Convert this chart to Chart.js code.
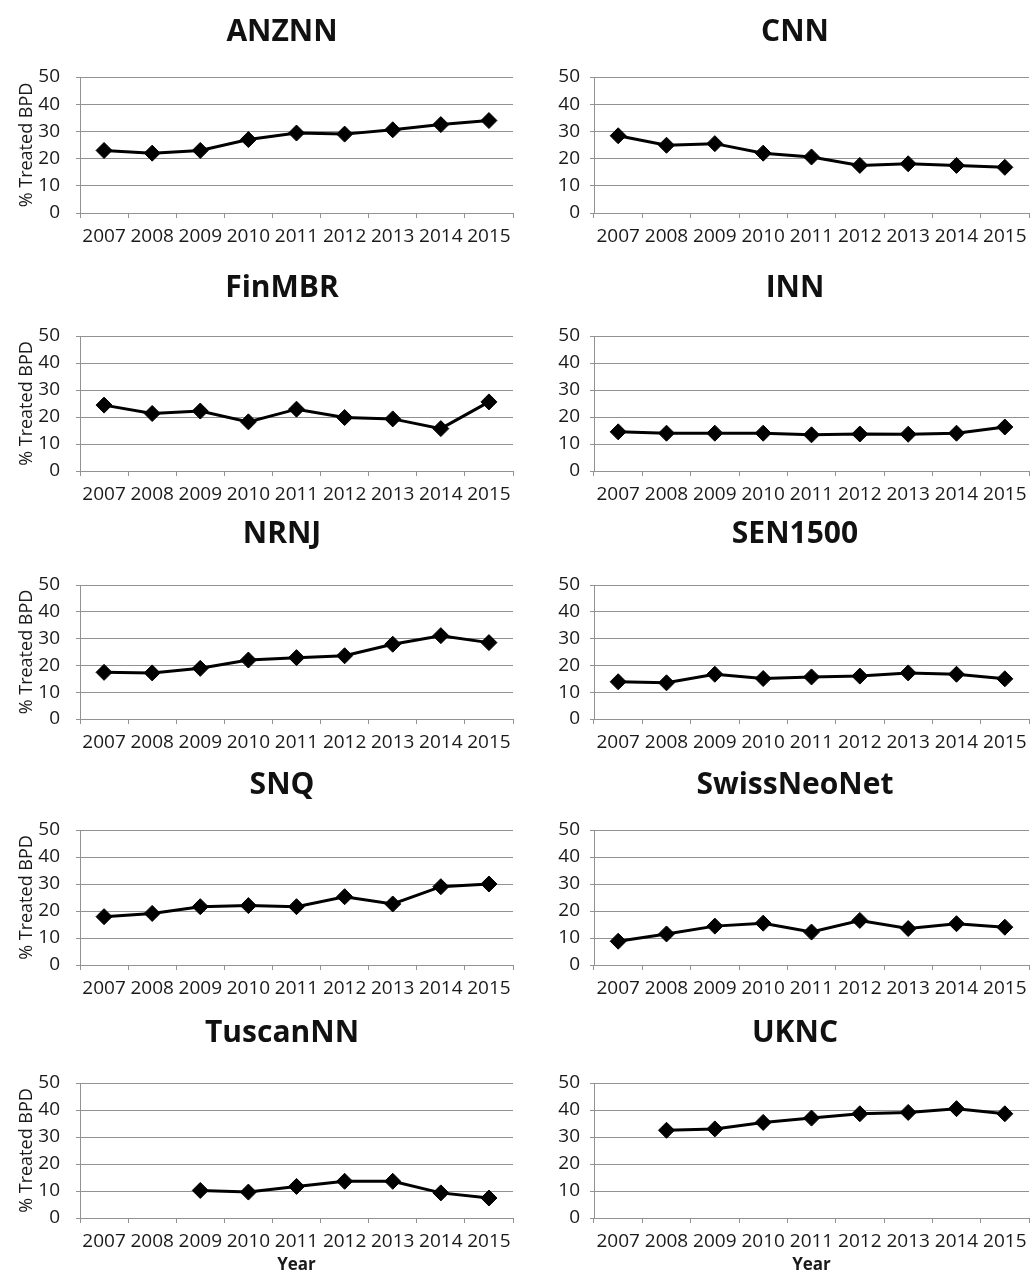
<!DOCTYPE html>
<html>
<head>
<meta charset="utf-8">
<script src="https://cdn.jsdelivr.net/npm/chart.js@4.4.0/dist/chart.umd.min.js"></script>
<style>
  html, body { margin: 0; padding: 0; background: #fff; overflow: hidden; width: 1032px; height: 1274px; }
  canvas { position: absolute; }
</style>
</head>
<body>
<script>
const years = ['2007', '2008', '2009', '2010', '2011', '2012', '2013', '2014', '2015'];
const yMax = 50;
const yStep = 10;
const yTitle = '% Treated BPD';
const xTitle = 'Year';

const networks = ['ANZNN', 'CNN', 'FinMBR', 'INN', 'NRNJ', 'SEN1500', 'SNQ', 'SwissNeoNet', 'TuscanNN', 'UKNC'];
const anznn = [23, 22, 23, 27, 29.4, 29, 30.6, 32.5, 34];
const cnn = [28.4, 24.9, 25.5, 22, 20.6, 17.5, 18.1, 17.5, 16.8];
const finmbr = [24.4, 21.3, 22.2, 18.2, 22.9, 19.8, 19.3, 15.7, 25.6];
const inn = [14.5, 14, 14, 14, 13.4, 13.7, 13.6, 14, 16.3];
const nrnj = [17.4, 17.2, 18.9, 22, 22.9, 23.6, 27.9, 31.1, 28.5];
const sen1500 = [13.9, 13.5, 16.7, 15.1, 15.7, 16, 17.2, 16.7, 15];
const snq = [17.9, 19.1, 21.6, 22, 21.6, 25.3, 22.6, 29, 30];
const swissneonet = [8.8, 11.5, 14.4, 15.5, 12.2, 16.5, 13.5, 15.3, 14];
const tuscannn = [null, null, 10.2, 9.6, 11.7, 13.6, 13.6, 9.3, 7.4];
const uknc = [null, 32.5, 33, 35.4, 37, 38.6, 39.1, 40.5, 38.6];

const series = [anznn, cnn, finmbr, inn, nrnj, sen1500, snq, swissneonet, tuscannn, uknc];

// page layout of the 2 x 5 grid (pixels)
const rows = [
  { titleY: 32, top: 77, bottom: 213 },
  { titleY: 288, top: 336, bottom: 471 },
  { titleY: 534, top: 585, bottom: 719 },
  { titleY: 785, top: 830, bottom: 965 },
  { titleY: 1033, top: 1083, bottom: 1218 }
];
const cols = [
  { left: 0, width: 564, axisW: 80, rightW: 51, tickPad: 16, showYTitle: true },
  { left: 520, width: 550, axisW: 74, rightW: 41, tickPad: 10, showYTitle: false }
];

const fontFamily = '"Open Sans", "Liberation Sans", sans-serif';
const gridColor = '#929292';
const textColor = '#1a1a1a';

const makeChart = (i) => {
  const r = Math.floor(i / 2);
  const row = rows[r];
  const col = cols[i % 2];
  const last = r === rows.length - 1;
  const xH = last ? 57 : 36;
  const top = row.titleY - 18;

  const cv = document.createElement('canvas');
  cv.width = col.width;
  cv.height = row.bottom - top + xH;
  cv.style.left = col.left + 'px';
  cv.style.top = top + 'px';
  document.body.appendChild(cv);

  new Chart(cv.getContext('2d'), {
    type: 'line',
    data: {
      labels: years,
      datasets: [
        {
          data: series[i],
          borderColor: '#000',
          borderWidth: 3,
          tension: 0,
          pointStyle: 'rectRot',
          pointRadius: 8,
          pointBackgroundColor: '#000',
          pointBorderColor: '#000',
          pointBorderWidth: 1,
        },
      ],
    },
    options: {
      responsive: false,
      animation: false,
      layout: { padding: 0 },
      plugins: {
        legend: { display: false },
        tooltip: { enabled: false },
        title: {
          display: true,
          text: networks[i],
          color: '#111',
          font: { family: fontFamily, size: 30, weight: 'bold', lineHeight: 1.2 },
          padding: { top: 0, bottom: row.top - row.titleY - 18 },
        },
      },
      scales: {
        x: {
          offset: true,
          grid: { display: true, drawOnChartArea: false, offset: true, drawTicks: true, tickLength: 5, color: gridColor },
          border: { color: gridColor },
          ticks: { color: textColor, font: { family: fontFamily, size: 19 }, padding: 7, maxRotation: 0, autoSkip: false },
          title: {
            display: last,
            text: xTitle,
            color: textColor,
            font: { family: fontFamily, size: 17, weight: 'bold', lineHeight: 1.2 },
            padding: 0,
          },
          afterFit: (s) => { s.height = xH; },
        },
        y: {
          min: 0,
          max: yMax,
          ticks: { stepSize: yStep, padding: col.tickPad, color: textColor, font: { family: fontFamily, size: 19 } },
          grid: { color: gridColor, tickLength: 4 },
          border: { color: gridColor },
          title: {
            display: col.showYTitle,
            text: yTitle,
            color: textColor,
            font: { family: fontFamily, size: 18, lineHeight: 1.2 },
            padding: { top: 16, bottom: 0 },
          },
          afterFit: (s) => { s.width = col.axisW; },
        },
        pad: {
          type: 'linear',
          position: 'right',
          display: true,
          grid: { display: false },
          ticks: { display: false },
          border: { display: false },
          afterFit: (s) => { s.width = col.rightW; },
        },
      },
    },
  });
};

networks.forEach((n, i) => makeChart(i));
</script>
</body>
</html>
